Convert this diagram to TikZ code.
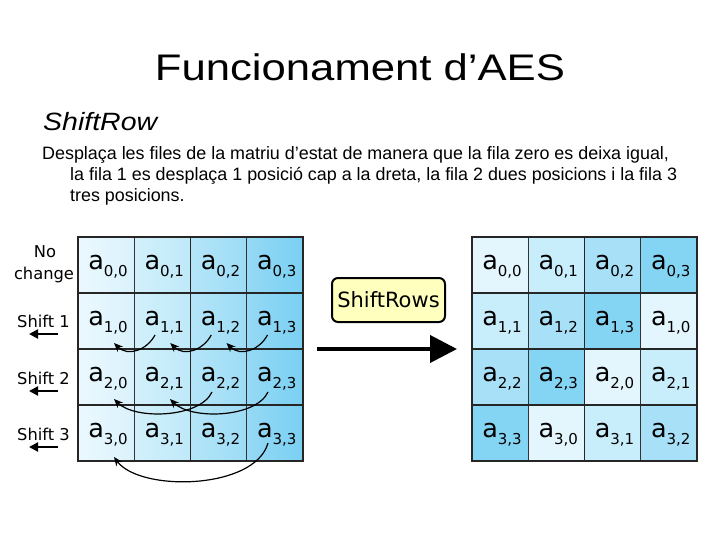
\documentclass[tikz,border=0pt]{standalone}
\usepackage{graphicx}
\usepackage{fontspec}
\setmainfont{Liberation Sans}
\newfontfamily\dv{DejaVu Sans}
\usetikzlibrary{arrows.meta,calc}
\definecolor{cS0}{HTML}{E4F6FD}
\definecolor{cS1}{HTML}{C8EDFB}
\definecolor{cS2}{HTML}{A8E1F7}
\definecolor{cS3}{HTML}{84D5F4}
\definecolor{cL0}{HTML}{EBF8FE}
\definecolor{cR0}{HTML}{DAF2FC}
\definecolor{cL1}{HTML}{D2F0FB}
\definecolor{cR1}{HTML}{BFE9F9}
\definecolor{cL2}{HTML}{B4E5F8}
\definecolor{cR2}{HTML}{9DDCF6}
\definecolor{cL3}{HTML}{95D9F5}
\definecolor{cR3}{HTML}{7AD0F2}
\definecolor{boxyel}{HTML}{FFFFBE}
\newcommand{\acell}[2]{{\dv\fontsize{25.5}{25.5}\selectfont a\raisebox{-7pt}{\fontsize{15}{15}\selectfont #1,#2}}}
\tikzset{
  celltext/.style={anchor=base, inner sep=0pt},
  rowlbl/.style={inner sep=0pt, font=\dv\fontsize{16.3}{16.3}\selectfont},
  thinline/.style={draw=black!80, line width=1pt},
  thickline/.style={draw=black!85, line width=1.7pt},
  border/.style={draw=black!85, line width=2pt},
  curvearrow/.style={line width=1.2pt, -{Stealth[length=9pt,width=7.5pt]}},
  shiftarrow/.style={line width=2pt, -{Triangle[length=9pt,width=9pt]}},
  bodytext/.style={anchor=base west, inner sep=0pt, font=\fontsize{17.9}{17.9}\selectfont}
}
\begin{document}
\begin{tikzpicture}[x=1pt,y=-1pt]
\useasboundingbox (0,0) rectangle (720,540);
\fill[white] (0,0) rectangle (720,540);
% title and text
\node[anchor=base, inner sep=0pt] (title) at (360,81) {\fontsize{37}{37}\selectfont\scalebox{1.18}[1]{Funcionament d’AES}};
\node[anchor=base west, inner sep=0pt] (sub) at (43,131) {\fontsize{25}{25}\selectfont\itshape\scalebox{1.14}[1]{ShiftRow}};
\node[bodytext] (b1) at (42,160) {Desplaça les files de la matriu d’estat de manera que la fila zero es deixa igual,};
\node[bodytext] (b2) at (70,181) {la fila 1 es desplaça 1 posició cap a la dreta, la fila 2 dues posicions i la fila 3};
\node[bodytext] (b3) at (70,202) {tres posicions.};
% left matrix
\foreach \r in {0,...,3}{
  \foreach \c in {0,...,3}{
    \pgfmathsetmacro\xl{78+56.25*\c}
    \pgfmathsetmacro\yt{237+56.1*\r}
    \shade[left color=cL\c, right color=cR\c] (\xl,\yt) rectangle ++(56.25,56.1);
    \node[celltext] (L\r\c) at (\xl+30,\yt+32) {\acell{\r}{\c}};
  }
}
\foreach \c in {1,3}{\draw[thinline] (78+56.25*\c,237) -- (78+56.25*\c,461.4);}
\draw[thickline] (190.5,237) -- (190.5,461.4);
\foreach \r in {1,2,3}{\draw[thickline] (78,237+56.1*\r) -- (303,237+56.1*\r);}
\draw[border] (78,237) rectangle (303,461.4);
% right matrix
\foreach \r in {0,...,3}{
  \foreach \c in {0,...,3}{
    \pgfmathtruncatemacro\oc{mod(\c+\r,4)}
    \pgfmathsetmacro\xl{472+56.25*\c}
    \pgfmathsetmacro\yt{237+56.1*\r}
    \fill[cS\oc] (\xl,\yt) rectangle ++(56.25,56.1);
    \node[celltext] (R\r\c) at (\xl+30,\yt+32) {\acell{\r}{\oc}};
  }
}
\foreach \c in {1,3}{\draw[thinline] (472+56.25*\c,237) -- (472+56.25*\c,461.4);}
\draw[thickline] (584.5,237) -- (584.5,461.4);
\foreach \r in {1,2,3}{\draw[thickline] (472,237+56.1*\r) -- (697,237+56.1*\r);}
\draw[border] (472,237) rectangle (697,461.4);
% row labels
\node[rowlbl, anchor=base] (nolbl) at (45,258) {No};
\node[rowlbl, anchor=base] (chlbl) at (44,279) {change};
\node[rowlbl, anchor=base west] (s1lbl) at (17,327) {Shift 1};
\node[rowlbl, anchor=base west] (s2lbl) at (17,384) {Shift 2};
\node[rowlbl, anchor=base west] (s3lbl) at (17,440.5) {Shift 3};
\foreach \i/\y in {1/334,2/391,3/447}{
  \coordinate (sa\i s) at (58,\y);
  \coordinate (sa\i e) at (29,\y);
  \draw[shiftarrow] (sa\i s) -- (sa\i e);
}
% curved arrows
\foreach \k in {0,1,2}{
  \coordinate (c1s\k) at (155+56.25*\k,335);
  \coordinate (c1e\k) at (114+56.25*\k,343);
  \draw[curvearrow] (c1s\k) .. controls ($(c1s\k)+(-8,15)$) and ($(c1e\k)+(14,14)$) .. (c1e\k);
}
\coordinate (c2sa) at (212,392); \coordinate (c2ea) at (114,399);
\coordinate (c2sb) at (268,392); \coordinate (c2eb) at (170,399);
\draw[curvearrow] (c2sa) .. controls (200,418) and (135,420) .. (c2ea);
\draw[curvearrow] (c2sb) .. controls (256,418) and (191,420) .. (c2eb);
\coordinate (c3s) at (268,443); \coordinate (c3e) at (114,457);
\draw[curvearrow] (c3s) .. controls (255,490) and (140,492) .. (c3e);
% ShiftRows box and arrow
\node[draw, line width=2pt, rounded corners=6pt, fill=boxyel, minimum width=113pt, minimum height=44pt, inner sep=0pt, font=\dv\fontsize{21}{21}\selectfont] (sr) at (388.5,300) {ShiftRows};
\coordinate (bas) at (317,349);
\coordinate (bae) at (457,349);
\draw[line width=4pt, -{Triangle[length=27pt,width=27pt]}] (bas) -- (bae);
\end{tikzpicture}
\end{document}
